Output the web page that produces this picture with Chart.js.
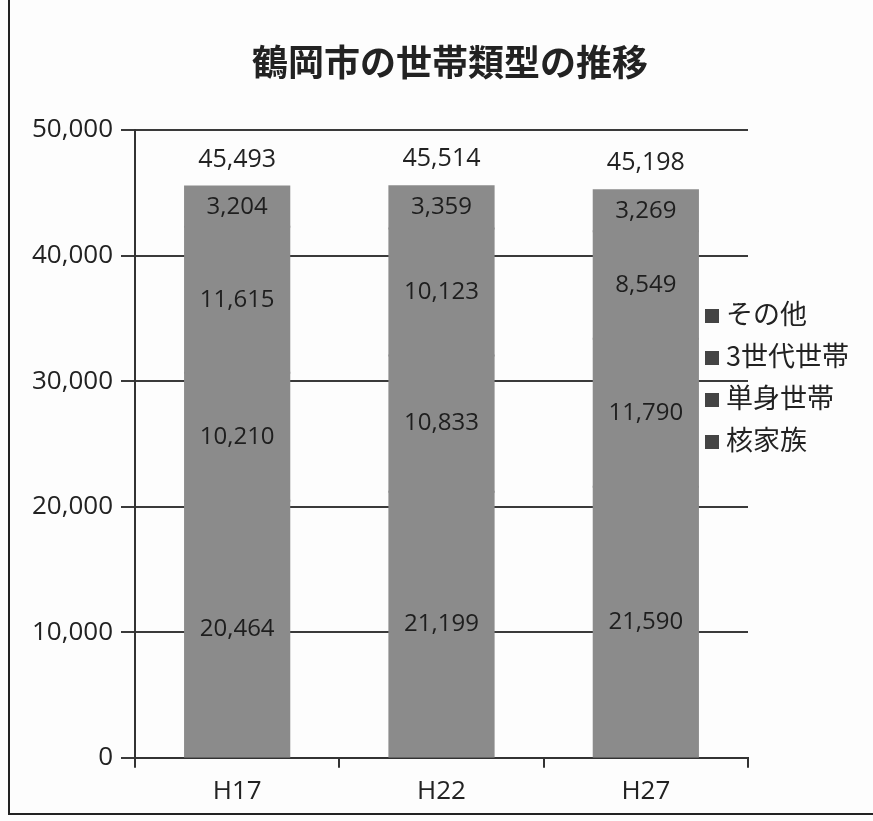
<!DOCTYPE html>
<html>
<head>
<meta charset="utf-8">
<script src="https://cdn.jsdelivr.net/npm/chart.js@4/dist/chart.umd.min.js"></script>
<style>
  html, body { margin: 0; padding: 0; background: #fdfdfd; }
  #wrap { position: relative; width: 873px; height: 821px; }
  #frame { position: absolute; left: 8px; top: -2px; width: 880px; height: 817px; border: 2px solid #222; box-sizing: border-box; pointer-events: none; }
  #title { position: absolute; left: 250px; width: 400px; top: 36px; text-align: center; font-family: "Noto Sans CJK JP", sans-serif; font-size: 36px; font-weight: bold; color: #222; line-height: 48px; white-space: nowrap; }
  #legend { position: absolute; left: 705px; top: 292px; font-family: "Noto Sans CJK JP", sans-serif; font-size: 27px; color: #222; }
  #legend div { height: 42px; line-height: 42px; white-space: nowrap; }
  #legend span { display: inline-block; width: 14px; height: 14px; background: #444; margin-right: 7px; vertical-align: 1px; }
</style>
</head>
<body>
<div id="wrap">
  <canvas id="myChart" width="873" height="821"></canvas>
  <div id="frame"></div>
  <div id="title">鶴岡市の世帯類型の推移</div>
  <div id="legend"></div>
</div>
<script>
'use strict';

// data
const years = ['H17', 'H22', 'H27'];
const kakukazoku = [20464, 21199, 21590];   // 核家族
const tanshin = [10210, 10833, 11790];      // 単身世帯
const sansedai = [11615, 10123, 8549];      // 3世代世帯
const sonota = [3204, 3359, 3269];          // その他
const totals = [45493, 45514, 45198];
const seriesNames = ['核家族', '単身世帯', '3世代世帯', 'その他'];

const barGray = '#8b8b8b';
const numFont = '"Open Sans", "Liberation Sans", sans-serif';

// labels inside segments + totals on top
const labelPlugin = {
    id: 'labels',
    afterDatasetsDraw(chart) {
        const ctx = chart.ctx;
        ctx.save();
        ctx.textAlign = 'center';
        ctx.textBaseline = 'middle';
        ctx.font = '24px ' + numFont;
        ctx.fillStyle = '#1e1e1e';
        chart.data.datasets.forEach((ds, i) => {
            chart.getDatasetMeta(i).data.forEach((bar, j) => {
                const mid = (bar.y + bar.base) / 2;
                ctx.fillText(ds.data[j].toLocaleString('en-US'), bar.x, mid);
            });
        });
        const top = chart.getDatasetMeta(chart.data.datasets.length - 1).data;
        ctx.font = '25px ' + numFont;
        ctx.fillStyle = '#222';
        top.forEach((bar, j) => {
            ctx.fillText(totals[j].toLocaleString('en-US'), bar.x, bar.y - 27);
        });
        ctx.restore();
    }
};

const ctx = document.getElementById('myChart');

new Chart(ctx, {
    type: 'bar',
    data: {
        labels: years,
        datasets: [
            { label: seriesNames[0], data: kakukazoku },
            { label: seriesNames[1], data: tanshin },
            { label: seriesNames[2], data: sansedai },
            { label: seriesNames[3], data: sonota }
        ].map(d => Object.assign(d, {
            backgroundColor: barGray,
            borderWidth: 0,
            inflateAmount: 1,
            barPercentage: 0.51,
            categoryPercentage: 1.0
        }))
    },
    options: {
        responsive: false,
        animation: false,
        layout: { padding: { left: 4, right: 125, top: 130, bottom: 6 } },
        plugins: {
            legend: { display: false },
            tooltip: { enabled: false }
        },
        scales: {
            x: {
                stacked: true,
                grid: { display: true, drawOnChartArea: false, offset: true, color: '#333', lineWidth: 2, tickLength: 10 },
                border: { color: '#333', width: 2 },
                ticks: { color: '#222', font: { family: numFont, size: 26 }, padding: 8 }
            },
            y: {
                stacked: true,
                min: 0,
                max: 50000,
                afterFit(scale) { scale.width = 131; },
                grid: { color: '#3a3a3a', lineWidth: 2, tickLength: 14 },
                border: { color: '#333', width: 2 },
                ticks: {
                    stepSize: 10000,
                    color: '#222',
                    padding: 8,
                    font: { family: numFont, size: 26 },
                    callback: v => v.toLocaleString('en-US')
                }
            }
        }
    },
    plugins: [labelPlugin]
});

// legend drawn as html, top item first as in the picture
const legend = document.getElementById('legend');
seriesNames.slice().reverse().forEach(name => {
    const row = document.createElement('div');
    row.innerHTML = '<span></span>' + name;
    legend.appendChild(row);
});
</script>
</body>
</html>
